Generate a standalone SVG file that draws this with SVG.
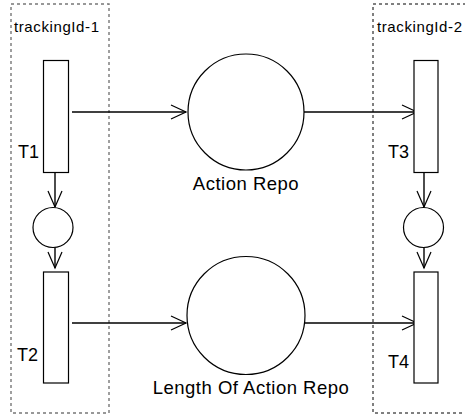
<svg xmlns="http://www.w3.org/2000/svg" width="465" height="417" viewBox="0 0 465 417">
<style>
.shape{fill:#fff;stroke:#000;stroke-width:1.2}
.conn{fill:none;stroke:#000;stroke-width:1.4}
.head{fill:none;stroke:#000;stroke-width:1.2}
.box1{fill:none;stroke:#777;stroke-width:1.4;stroke-dasharray:3,3}
.box2{fill:none;stroke:#000;stroke-width:1;stroke-dasharray:3,3}
text{font-family:"Liberation Sans",Arial,sans-serif;fill:#000}
.lbl{font-size:15px;letter-spacing:0.6px}
.big{font-size:18.5px;letter-spacing:0.5px}
.t{font-size:18px}
</style>
<rect width="465" height="417" fill="#fff"/>
<g id="group-trackingId-1">
<path class="box1" d="M11,4 H109 V413 H11 Z"/>
<text class="lbl" x="14" y="32">trackingId-1</text>
</g>
<g id="group-trackingId-2">
<path class="box2" d="M466,4 H373 V413 H466"/>
<text class="lbl" x="377" y="32">trackingId-2</text>
</g>
<g id="connectors">
<path class="conn" d="M72,112 H186"/>
<path class="head" d="M171,105 L186,112 L171,119"/>
<path class="conn" d="M304,112 H417"/>
<path class="head" d="M402,105 L417,112 L402,119"/>
<path class="conn" d="M72,323 H186"/>
<path class="head" d="M171,316 L186,323 L171,330"/>
<path class="conn" d="M304,323 H417"/>
<path class="head" d="M402,316 L417,323 L402,330"/>
<path class="conn" d="M55,172 V207"/>
<path class="head" d="M48,191 L55,207 L62,191"/>
<path class="conn" d="M55,247 V268"/>
<path class="head" d="M48,252 L55,268 L62,252"/>
<path class="conn" d="M424,172 V207"/>
<path class="head" d="M417,191 L424,207 L431,191"/>
<path class="conn" d="M424,247 V268"/>
<path class="head" d="M417,252 L424,268 L431,252"/>
</g>
<g id="T1">
<rect class="shape" x="43.5" y="60.5" width="25" height="112"/>
<text class="t" x="18" y="158">T1</text>
</g>
<g id="T2">
<rect class="shape" x="43.5" y="272" width="25" height="111"/>
<text class="t" x="17" y="361">T2</text>
</g>
<g id="T3">
<rect class="shape" x="414" y="60.5" width="24" height="112"/>
<text class="t" x="388" y="158">T3</text>
</g>
<g id="T4">
<rect class="shape" x="414" y="272" width="24" height="111"/>
<text class="t" x="388" y="368">T4</text>
</g>
<g id="p1">
<circle class="shape" cx="53" cy="227.5" r="20"/>
</g>
<g id="p2">
<circle class="shape" cx="423.5" cy="227.5" r="20"/>
</g>
<g id="action-repo">
<circle class="shape" cx="246" cy="112" r="58"/>
<text class="big" x="246" y="190" text-anchor="middle">Action Repo</text>
</g>
<g id="length-of-action-repo">
<circle class="shape" cx="246" cy="315.5" r="59"/>
<text class="big" x="251" y="394" text-anchor="middle">Length Of Action Repo</text>
</g>
</svg>
